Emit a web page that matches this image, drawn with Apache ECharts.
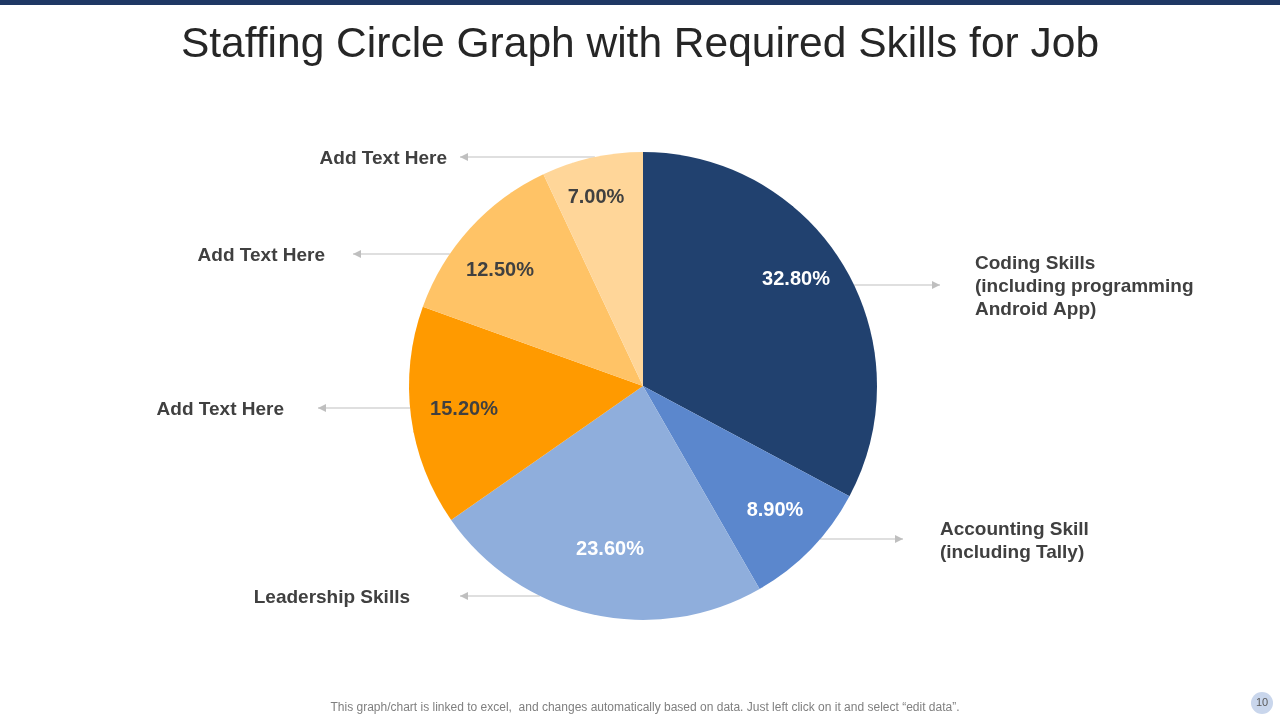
<!DOCTYPE html>
<html>
<head>
<meta charset="utf-8">
<script src="https://cdn.jsdelivr.net/npm/echarts@6/dist/echarts.min.js"></script>
<style>
  html, body { margin: 0; padding: 0; background: #fff; }
  #main { width: 1280px; height: 720px; }
</style>
</head>
<body>
<div id="main"></div>
<script>
// data
const skillNames = [
    'Coding Skills\n(including programming\nAndroid App)',
    'Accounting Skill\n(including Tally)',
    'Leadership Skills',
    'Add Text Here',
    'Add Text Here',
    'Add Text Here'
];
const shares = [32.8, 8.9, 23.6, 15.2, 12.5, 7.0];
const sliceColors = ['#21416F', '#5B87CD', '#8FAEDC', '#FF9A00', '#FFC366', '#FFD699'];
const pctColors = ['#fff', '#fff', '#fff', '#404040', '#404040', '#404040'];

// layout (pixels) for the labels
const CX = 643, CY = 386, R = 234;
const pctPos = [[796, 279], [775, 510], [610, 549], [464, 409], [500, 270], [596, 197]];
// [text x, y, arrow tip x]
const namePos = [[975, 285, 940], [940, 539, 903], [410, 596, 460], [284, 408, 318], [325, 254, 353], [447, 157, 460]];

function getdata(names, vals) {
    let data = [];
    for (let i = 0; i < vals.length; ++i) {
        data.push({
            value: vals[i],
            name: names[i],
            itemStyle: {color: sliceColors[i]},
            label: {color: pctColors[i]}
        });
    }
    return data;
}

// arrow heads at the end of the leader lines
let arrows = namePos.map(function (c) {
    let dir = c[2] < CX ? 1 : -1;
    return {
        type: 'polygon',
        shape: {points: [[c[2], c[1]], [c[2] + dir * 8, c[1] - 4], [c[2] + dir * 8, c[1] + 4]]},
        style: {fill: '#BFBFBF'},
        z: 10
    };
});

let chart = echarts.init(document.getElementById('main'));
chart.setOption({
    animation: false,
    title: [{
        text: 'Staffing Circle Graph with Required Skills for Job',
        left: 'center',
        top: 19,
        textStyle: {fontFamily: 'Liberation Sans', fontSize: 42.5, fontWeight: 'normal', color: '#262626'}
    }, {
        text: 'This graph/chart is linked to excel,  and changes automatically based on data. Just left click on it and select \u201cedit data\u201d.',
        left: 640,
        textAlign: 'center',
        top: 697,
        textStyle: {fontFamily: 'Liberation Sans', fontSize: 12, fontWeight: 'normal', color: '#7F7F7F'}
    }],
    graphic: [{
        type: 'rect',
        shape: {x: 0, y: 0, width: 1280, height: 5},
        style: {fill: '#1F3864'}
    }, {
        type: 'circle',
        shape: {cx: 1262, cy: 703, r: 11},
        style: {fill: '#C9D6EC'}
    }, {
        type: 'text',
        x: 1262, y: 703,
        style: {text: '10', fill: '#595959', font: '11px Liberation Sans', align: 'center', verticalAlign: 'middle'}
    }].concat(arrows),
    series: [{
        type: 'pie',
        center: [CX, CY],
        radius: R,
        startAngle: 90,
        silent: true,
        avoidLabelOverlap: false,
        data: getdata(skillNames, shares),
        label: {
            show: true,
            position: 'inside',
            fontFamily: 'Liberation Sans',
            fontSize: 20,
            fontWeight: 'bold',
            formatter: function (p) {
                return p.value.toFixed(2) + '%';
            }
        },
        labelLayout: function (p) {
            let pos = pctPos[p.dataIndex];
            return {x: pos[0], y: pos[1], align: 'center', verticalAlign: 'middle'};
        }
    }, {
        type: 'pie',
        center: [CX, CY],
        radius: R,
        startAngle: 90,
        silent: true,
        avoidLabelOverlap: false,
        itemStyle: {color: 'rgba(0,0,0,0)'},
        data: shares.map((v, i) => ({value: v, name: skillNames[i]})),
        label: {
            show: true,
            position: 'outside',
            fontFamily: 'Liberation Sans',
            fontSize: 19,
            fontWeight: 'bold',
            lineHeight: 23,
            color: '#404040',
            formatter: p => p.name
        },
        labelLine: {
            show: true,
            lineStyle: {color: '#BFBFBF', width: 1}
        },
        labelLayout: function (p) {
            let c = namePos[p.dataIndex];
            let side = c[2] < CX ? -1 : 1;
            let dy = c[1] - CY;
            let edgeX = CX + side * Math.sqrt(R * R - dy * dy);
            return {
                x: c[0], y: c[1] + 2,
                align: side < 0 ? 'right' : 'left',
                verticalAlign: 'middle',
                labelLinePoints: [[edgeX, c[1]], [edgeX, c[1]], [c[2], c[1]]]
            };
        }
    }]
});
</script>
</body>
</html>
